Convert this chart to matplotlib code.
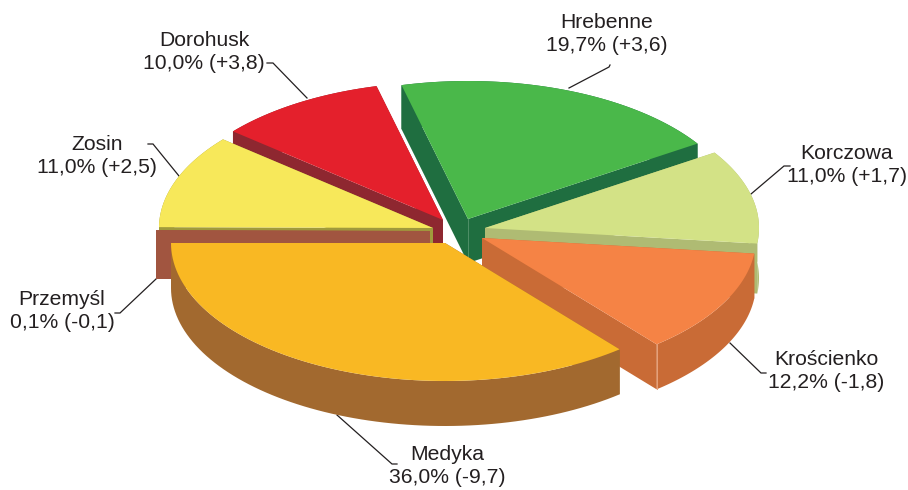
import numpy as np
import matplotlib
matplotlib.use("Agg")
import matplotlib.pyplot as plt
from matplotlib.patches import Polygon

plt.rcParams['font.family'] = ['Liberation Sans', 'DejaVu Sans']

# dane
names = ["Medyka", "Krościenko", "Korczowa", "Hrebenne", "Dorohusk", "Zosin", "Przemyśl"]
shares = [36.0, 12.2, 11.0, 19.7, 10.0, 11.0, 0.1]
changes = [-9.7, -1.8, 1.7, 3.6, 3.8, 2.5, -0.1]

# kolory
top_colors = ["#F9B823", "#F58345", "#D3E286", "#4AB84A", "#E4202C", "#F7E85A", "#A15540"]
side_colors = ["#A2692F", "#C96B36", "#AFBB73", "#1F6E40", "#8E2730", "#A09A3C", "#A15540"]

# geometria w pikselach: srodki wycinkow, opis
centers = [(445, 243), (482, 238), (485, 228), (468, 219), (443, 220), (433, 228), (430, 231)]
depths = [45, 45, 50, 44, 44, 45, 48]
label_pos = [(447, 466), (826, 371), (847, 165), (607, 34), (204, 52), (97, 156), (62, 311)]
leaders = [
    [(337, 415), (392, 464), (397, 464)],
    [(730, 343), (761, 373), (766, 373)],
    [(751, 194), (784, 166), (790, 166)],
    [(569, 88), (609, 67), (610, 65)],
    [(307, 98), (273, 63), (267, 63)],
    [(179, 176), (153, 144), (148, 144)],
    [(156, 279), (120, 313), (115, 313)],
]
rx, ry = 274, 138
start_angle = 180
draw_order = [3, 4, 5, 2, 6, 1, 0]

fig = plt.figure(figsize=(9.08, 4.90), dpi=100)
ax = fig.add_axes([0, 0, 1, 1])
ax.set_xlim(0, 908)
ax.set_ylim(490, 0)
ax.axis("off")

# katy wycinkow z wartosci
ends = start_angle + np.cumsum(shares) * 3.6
starts = np.concatenate(([start_angle], ends[:-1]))

for k in draw_order:
    cx, cy = centers[k]
    t = np.radians(np.linspace(starts[k], ends[k], 80))
    x = cx + rx * np.cos(t)
    y = cy - ry * np.sin(t)
    d = depths[k]
    z = 1 + draw_order.index(k)
    # boki: dwa ciecia i luk
    ax.add_patch(Polygon([(cx, cy), (x[0], y[0]), (x[0], y[0] + d), (cx, cy + d)],
                         fc=side_colors[k], ec="none", zorder=z))
    ax.add_patch(Polygon([(cx, cy), (x[-1], y[-1]), (x[-1], y[-1] + d), (cx, cy + d)],
                         fc=side_colors[k], ec="none", zorder=z))
    arc = list(zip(x, y)) + list(zip(x[::-1], y[::-1] + d))
    ax.add_patch(Polygon(arc, fc=side_colors[k], ec="none", zorder=z))
    # gorna sciana
    top = [(cx, cy)] + list(zip(x, y))
    ax.add_patch(Polygon(top, fc=top_colors[k], ec="none", zorder=z + 0.5))
    # jasne krawedzie naroznikow
    if names[k] == "Krościenko":
        ax.plot([x[0], x[0]], [y[0], y[0] + d], color="#E8A27C", lw=0.7, zorder=z + 0.2)
    if names[k] == "Hrebenne":
        ax.plot([cx, cx], [cy, cy + d], color="#4F9068", lw=0.7, zorder=z + 0.2)

for k in range(len(names)):
    label = f"{names[k]}\n{shares[k]:.1f}% ({changes[k]:+.1f})".replace(".", ",")
    ax.text(label_pos[k][0], label_pos[k][1], label, fontsize=15.2, color="#231F20",
            ha="center", va="center", linespacing=1.31, zorder=20)
    lx, ly = zip(*leaders[k])
    ax.plot(lx, ly, color="#231F20", lw=0.9, zorder=0.5, solid_joinstyle="miter")

fig.savefig("out.png", dpi=100)
